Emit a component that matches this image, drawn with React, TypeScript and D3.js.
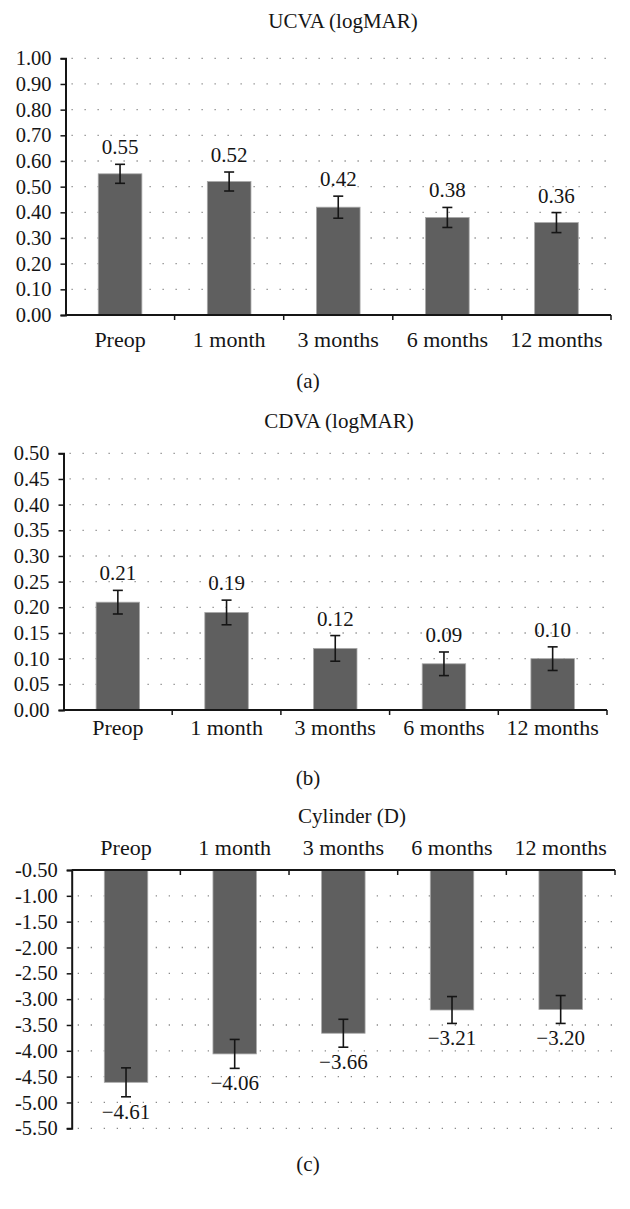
import React, { useEffect, useRef } from 'react';
import * as d3 from 'd3';

const categories = ['Preop', '1 month', '3 months', '6 months', '12 months'];

const ucvaValues = [0.55, 0.52, 0.42, 0.38, 0.36];
const ucvaErrors = [0.037, 0.037, 0.043, 0.039, 0.039];
const ucvaTicks = [0, 0.1, 0.2, 0.3, 0.4, 0.5, 0.6, 0.7, 0.8, 0.9, 1.0];

const cdvaValues = [0.21, 0.19, 0.12, 0.09, 0.1];
const cdvaErrors = [0.023, 0.024, 0.025, 0.023, 0.023];
const cdvaTicks = [0, 0.05, 0.1, 0.15, 0.2, 0.25, 0.3, 0.35, 0.4, 0.45, 0.5];

const cylValues = [-4.61, -4.06, -3.66, -3.21, -3.2];
const cylErrors = [0.28, 0.28, 0.27, 0.26, 0.27];
const cylTicks = [-0.5, -1, -1.5, -2, -2.5, -3, -3.5, -4, -4.5, -5, -5.5];

const FONT = '"Liberation Serif", "Times New Roman", serif';
const BAR = '#5f5f5f';
const INK = '#151515';

type Panel = {
  title: string;
  tag: string;
  values: number[];
  errors: number[];
  ticks: number[];
  domain: [number, number];
  left: number;
  right: number;
  yTop: number;
  yBottom: number;
  inverted: boolean; // bars hang down from the top axis
  titleX: number;
  titleY: number;
  catY: number;
  tagY: number;
};

const panels: Panel[] = [
  {
    title: 'UCVA (logMAR)', tag: '(a)', values: ucvaValues, errors: ucvaErrors, ticks: ucvaTicks,
    domain: [0, 1], left: 65.5, right: 611, yTop: 58.3, yBottom: 315, inverted: false,
    titleX: 343, titleY: 28, catY: 346.5, tagY: 388,
  },
  {
    title: 'CDVA (logMAR)', tag: '(b)', values: cdvaValues, errors: cdvaErrors, ticks: cdvaTicks,
    domain: [0, 0.5], left: 63.5, right: 607, yTop: 453.3, yBottom: 710, inverted: false,
    titleX: 339, titleY: 428, catY: 734.5, tagY: 785,
  },
  {
    title: 'Cylinder (D)', tag: '(c)', values: cylValues, errors: cylErrors, ticks: cylTicks,
    domain: [-5.5, -0.5], left: 71.7, right: 615, yTop: 870, yBottom: 1128.3, inverted: true,
    titleX: 352, titleY: 823, catY: 855, tagY: 1171,
  },
];

const tickFmt = (v: number) => d3.format('.2f')(v).replace('\u2212', '-');
const valFmt = d3.format('.2f'); // keeps the real minus sign

const drawPanel = (svg: d3.Selection<SVGSVGElement, unknown, null, undefined>, p: Panel) => {
  const g = svg.append('g');

  const x = d3.scaleBand<string>()
    .domain(categories)
    .range([p.left, p.right])
    .paddingInner(0.6)
    .paddingOuter(0.3);

  const y = d3.scaleLinear().domain(p.domain).range([p.yBottom, p.yTop]);
  const base = p.inverted ? p.domain[1] : p.domain[0];
  const cx = (i: number) => x(categories[i])! + x.bandwidth() / 2;

  // dotted grid
  g.selectAll('.grid')
    .data(p.ticks.filter(t => t !== base))
    .enter()
    .append('line')
    .attr('x1', p.left + 6)
    .attr('x2', p.right)
    .attr('y1', d => y(d))
    .attr('y2', d => y(d))
    .attr('stroke', '#8a8a8a')
    .attr('stroke-width', 1.3)
    .attr('stroke-dasharray', '1.3 11.7');

  // bars
  g.selectAll('.bar')
    .data(p.values)
    .enter()
    .append('rect')
    .attr('x', (d, i) => x(categories[i])!)
    .attr('width', x.bandwidth())
    .attr('y', d => Math.min(y(d), y(base)))
    .attr('height', d => Math.abs(y(d) - y(base)))
    .attr('fill', BAR)
    .attr('stroke', '#a8a8a8')
    .attr('stroke-width', 0.8);

  // error bars
  const eb = g.selectAll('.err')
    .data(p.values)
    .enter()
    .append('g')
    .attr('stroke', INK)
    .attr('stroke-width', 1.6);
  eb.append('line')
    .attr('x1', (d, i) => cx(i)).attr('x2', (d, i) => cx(i))
    .attr('y1', (d, i) => y(d + p.errors[i])).attr('y2', (d, i) => y(d - p.errors[i]));
  eb.append('line')
    .attr('x1', (d, i) => cx(i) - 5).attr('x2', (d, i) => cx(i) + 5)
    .attr('y1', (d, i) => y(d + p.errors[i])).attr('y2', (d, i) => y(d + p.errors[i]));
  eb.append('line')
    .attr('x1', (d, i) => cx(i) - 5).attr('x2', (d, i) => cx(i) + 5)
    .attr('y1', (d, i) => y(d - p.errors[i])).attr('y2', (d, i) => y(d - p.errors[i]));

  // value labels
  g.selectAll('.val')
    .data(p.values)
    .enter()
    .append('text')
    .attr('x', (d, i) => cx(i))
    .attr('y', (d, i) => p.inverted ? y(d - p.errors[i]) + 22 : y(d + p.errors[i]) - 10)
    .attr('text-anchor', 'middle')
    .attr('font-family', FONT)
    .attr('font-size', 21)
    .attr('fill', INK)
    .text(d => valFmt(d));

  // y axis
  const yAxis = g.append('g')
    .attr('transform', `translate(${p.left},0)`)
    .call(d3.axisLeft(y).tickValues(p.ticks).tickSize(5).tickPadding(9).tickFormat(d => tickFmt(+d)));
  yAxis.select('.domain').attr('stroke', INK).attr('stroke-width', 2);
  yAxis.selectAll('.tick line').attr('stroke', INK).attr('stroke-width', 1.5);
  yAxis.selectAll('text').attr('font-family', FONT).attr('font-size', 20.5).attr('fill', INK);

  // category axis
  const axisY = p.inverted ? p.yTop : p.yBottom;
  g.append('line')
    .attr('x1', p.left).attr('x2', p.right)
    .attr('y1', axisY).attr('y2', axisY)
    .attr('stroke', INK).attr('stroke-width', 2);
  const step = x.step();
  g.selectAll('.xtick')
    .data(categories)
    .enter()
    .append('line')
    .attr('x1', (d, i) => p.left + step * (i + 1))
    .attr('x2', (d, i) => p.left + step * (i + 1))
    .attr('y1', axisY)
    .attr('y2', axisY + 5)
    .attr('stroke', INK)
    .attr('stroke-width', 1.5);
  g.selectAll('.cat')
    .data(categories)
    .enter()
    .append('text')
    .attr('x', d => x(d)! + x.bandwidth() / 2)
    .attr('y', p.catY)
    .attr('text-anchor', 'middle')
    .attr('font-family', FONT)
    .attr('font-size', 22)
    .attr('fill', INK)
    .text(d => d);

  g.append('text')
    .attr('x', p.titleX).attr('y', p.titleY)
    .attr('text-anchor', 'middle')
    .attr('font-family', FONT).attr('font-size', 21).attr('fill', INK)
    .text(p.title);

  g.append('text')
    .attr('x', 308).attr('y', p.tagY)
    .attr('text-anchor', 'middle')
    .attr('font-family', FONT).attr('font-size', 21).attr('fill', INK)
    .text(p.tag);
};

const App = () => {
  const svgRef = useRef<SVGSVGElement>(null);

  useEffect(() => {
    const svg = d3.select(svgRef.current!);
    svg.selectAll('*').remove();
    panels.forEach(p => drawPanel(svg, p));
  }, []);

  return (
    <div style={{ position: 'absolute', left: 0, top: 0 }}>
      <svg ref={svgRef} width={630} height={1209} style={{ display: 'block', background: '#fff' }} />
    </div>
  );
};

export default App;
